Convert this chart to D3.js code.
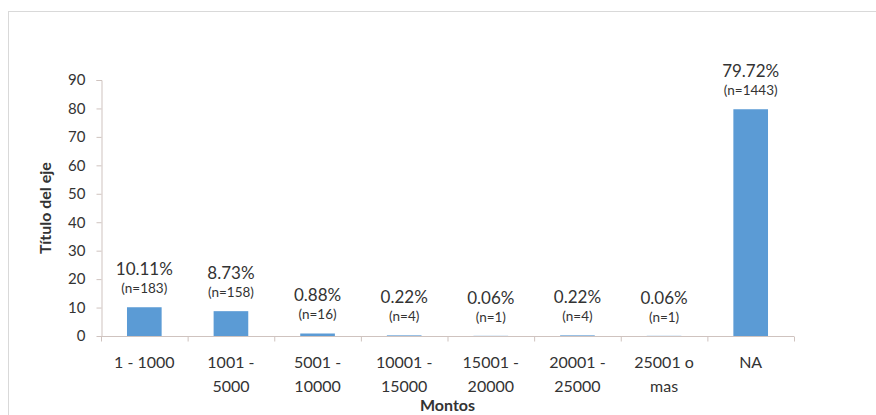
<!DOCTYPE html>
<html>
<head>
<meta charset="utf-8">
<script src="https://cdn.jsdelivr.net/npm/d3@7"></script>
<style>
  html, body { margin: 0; padding: 0; background: #fff; }
  svg { display: block; font-family: Lato, "Open Sans", sans-serif; }
</style>
</head>
<body>
<svg id="chart" width="876" height="415"></svg>
<script>
const categories = ["1 - 1000", "1001 - 5000", "5001 - 10000", "10001 - 15000", "15001 - 20000", "20001 - 25000", "25001 o mas", "NA"];
const percents = [10.11, 8.73, 0.88, 0.22, 0.06, 0.22, 0.06, 79.72];
const counts = [183, 158, 16, 4, 1, 4, 1, 1443];
const yTicks = [0, 10, 20, 30, 40, 50, 60, 70, 80, 90];
const yTitle = "Título del eje";
const xTitle = "Montos";

const svg = d3.select("#chart");
const W = 876, H = 415;
const m = { left: 101, right: 82, top: 80, bottom: 79 };
const x0 = m.left, x1 = W - m.right, y0 = H - m.bottom, y1 = m.top;
const textColor = "#333333";
const axisColor = "#cfc3bf";

// outer frame
svg.append("rect").attr("x", 8.5).attr("y", 11.5).attr("width", 900).attr("height", 500)
  .attr("fill", "none").attr("stroke", "#d9d9d9").attr("stroke-width", 1);

const x = d3.scaleBand().domain(categories).range([x0, x1]).paddingInner(0.6).paddingOuter(0.3);
const y = d3.scaleLinear().domain([0, 90]).range([y0, y1]);

// y axis
const yAxis = svg.append("g").attr("transform", `translate(${x0 + 0.5},0)`)
  .call(d3.axisLeft(y).tickValues(yTicks).tickSize(5).tickPadding(11));
yAxis.select(".domain").attr("stroke", axisColor).attr("d", `M-5,${y1 + 0.5}H0.5V${y0 + 0.5}`);
yAxis.selectAll(".tick line").attr("stroke", axisColor);
yAxis.selectAll(".tick text").attr("fill", textColor).attr("font-size", 15).attr("font-family", "Lato");

// x axis
const xAxisG = svg.append("g").attr("transform", `translate(0,${y0 + 0.5})`);
xAxisG.append("line").attr("x1", x0).attr("x2", x1).attr("stroke", axisColor);
const boundaries = d3.range(categories.length + 1).map(i => x0 + i * (x1 - x0) / categories.length);
xAxisG.selectAll(".bt").data(boundaries).join("line")
  .attr("x1", d => d + 0.5).attr("x2", d => d + 0.5).attr("y1", 0).attr("y2", 5)
  .attr("stroke", axisColor);

// category labels with wrapping
const maxW = 76;
categories.forEach((c, i) => {
  const cx = x(c) + x.bandwidth() / 2;
  const t = svg.append("text").attr("x", cx).attr("y", y0 + 32)
    .attr("text-anchor", "middle").attr("fill", textColor).attr("font-size", 16);
  const words = c.split(" ");
  let line = [];
  let lines = [];
  const probe = svg.append("text").attr("font-size", 16).attr("visibility", "hidden");
  words.forEach(w => {
    const test = line.concat([w]).join(" ");
    probe.text(test);
    if (probe.node().getComputedTextLength() > maxW && line.length) {
      lines.push(line.join(" "));
      line = [w];
    } else line.push(w);
  });
  lines.push(line.join(" "));
  probe.remove();
  lines.forEach((l, k) => {
    t.append("tspan").attr("x", cx).attr("dy", k === 0 ? 0 : 24).text(l);
  });
});

// bars
svg.selectAll(".bar").data(categories).join("rect")
  .attr("x", d => x(d)).attr("width", x.bandwidth())
  .attr("y", (d, i) => y(percents[i])).attr("height", (d, i) => y0 - y(percents[i]))
  .attr("fill", "#5b9bd5");

// value labels
categories.forEach((c, i) => {
  const cx = x(c) + x.bandwidth() / 2;
  const top = y(percents[i]);
  svg.append("text").attr("x", cx).attr("y", top - 32).attr("text-anchor", "middle")
    .attr("fill", textColor).attr("font-size", 17).text(percents[i].toFixed(2) + "%");
  svg.append("text").attr("x", cx).attr("y", top - 14).attr("text-anchor", "middle")
    .attr("fill", textColor).attr("font-size", 13.5).text("(n=" + counts[i] + ")");
});

// axis titles
svg.append("text").attr("transform", `translate(51,${(y0 + y1) / 2}) rotate(-90)`)
  .attr("text-anchor", "middle").attr("font-weight", "bold").attr("font-size", 16)
  .attr("fill", textColor).text(yTitle);
svg.append("text").attr("x", (x0 + x1) / 2).attr("y", 411).attr("text-anchor", "middle")
  .attr("font-weight", "bold").attr("font-size", 16).attr("fill", textColor).text(xTitle);
</script>
</body>
</html>
